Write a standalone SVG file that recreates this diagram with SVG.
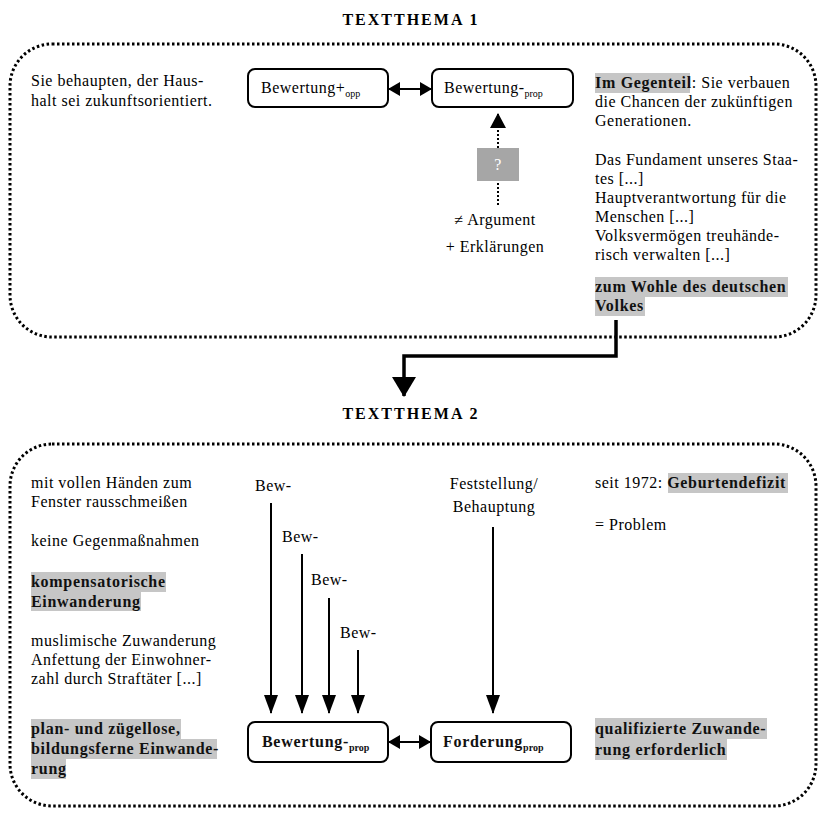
<svg xmlns="http://www.w3.org/2000/svg" width="820" height="817" viewBox="0 0 820 817">
<style>
  .t { font-family: "Liberation Serif", "Times New Roman", serif; font-size: 16px; letter-spacing: 0.5px; fill: #000; }
  .b { font-family: "Liberation Serif", "Times New Roman", serif; font-size: 16px; font-weight: bold; letter-spacing: 0.7px; fill: #111; }
  .title { font-family: "Liberation Serif", "Times New Roman", serif; font-size: 16px; font-weight: bold; letter-spacing: 2px; fill: #000; }
  .sub { font-size: 10px; letter-spacing: 0; }
  .hl { fill: #c6c6c6; }
  .frame { fill: none; stroke: #000; stroke-width: 3; stroke-dasharray: 2.5 2.5; }
  .node { fill: #fff; stroke: #000; stroke-width: 2; }
  .conn { stroke: #000; stroke-width: 2; fill: none; }
</style>
<defs>
  <marker id="ah" markerUnits="userSpaceOnUse" markerWidth="12" markerHeight="14" refX="11" refY="7" orient="auto-start-reverse">
    <path d="M0,0 L12,7 L0,14 z" fill="#000"/>
  </marker>
  <marker id="ahv" markerUnits="userSpaceOnUse" markerWidth="19" markerHeight="14" refX="18" refY="7" orient="auto">
    <path d="M0,0 L19,7 L0,14 z" fill="#000"/>
  </marker>
  <marker id="ahq" markerUnits="userSpaceOnUse" markerWidth="15" markerHeight="16" refX="14" refY="8" orient="auto">
    <path d="M0,0 L15,8 L0,16 z" fill="#000"/>
  </marker>
  <marker id="ahbig" markerUnits="userSpaceOnUse" markerWidth="20" markerHeight="24" refX="19" refY="12" orient="auto">
    <path d="M0,0 L20,12 L0,24 z" fill="#000"/>
  </marker>
</defs>

<rect width="820" height="817" fill="#fff"/>

<!-- ===== TEXTTHEMA 1 ===== -->
<g id="thema1-title"><text class="title" x="411" y="25" text-anchor="middle">TEXTTHEMA 1</text></g>
<g id="frame1"><rect class="frame" x="10" y="44" width="806" height="293" rx="42" ry="42"/></g>

<g id="text-left-1">
  <text class="t" x="31" y="86">Sie behaupten, der Haus-</text>
  <text class="t" x="31" y="106">halt sei zukunftsorientiert.</text>
</g>

<g id="node-bew-opp">
  <rect class="node" x="248" y="69" width="140" height="38" rx="7"/>
  <text class="t" x="261" y="93">Bewertung+<tspan class="sub" dy="4">opp</tspan></text>
</g>
<g id="node-bew-prop-1">
  <rect class="node" x="432" y="69" width="141" height="38" rx="7"/>
  <text class="t" x="444" y="93">Bewertung-<tspan class="sub" dy="4">prop</tspan></text>
</g>

<g id="q-box">
  <rect x="477" y="148" width="42" height="33" fill="#a6a6a6"/>
  <text class="t" x="498" y="170" text-anchor="middle" style="fill:#fff">?</text>
</g>

<g id="text-mid-1">
  <text class="t" x="495" y="225" text-anchor="middle">≠ Argument</text>
  <text class="t" x="495" y="252" text-anchor="middle">+ Erklärungen</text>
</g>

<g id="text-right-1">
  <rect class="hl" x="595" y="73" width="95" height="20"/>
  <text x="595" y="88"><tspan class="b">Im Gegenteil</tspan><tspan class="t">: Sie verbauen</tspan></text>
  <text class="t" x="595" y="107">die Chancen der zukünftigen</text>
  <text class="t" x="595" y="126">Generationen.</text>
  <text class="t" x="595" y="165">Das Fundament unseres Staa-</text>
  <text class="t" x="595" y="184">tes [...]</text>
  <text class="t" x="595" y="203">Hauptverantwortung für die</text>
  <text class="t" x="595" y="222">Menschen [...]</text>
  <text class="t" x="595" y="241">Volksvermögen treuhände-</text>
  <text class="t" x="595" y="260">risch verwalten [...]</text>
  <rect class="hl" x="595" y="277" width="193" height="20"/>
  <rect class="hl" x="595" y="297" width="50" height="19"/>
  <text class="b" x="595" y="292">zum Wohle des deutschen</text>
  <text class="b" x="595" y="311">Volkes</text>
</g>

<!-- ===== TEXTTHEMA 2 ===== -->
<g id="thema2-title"><text class="title" x="411" y="419" text-anchor="middle">TEXTTHEMA 2</text></g>
<g id="frame2"><rect class="frame" x="10" y="444" width="806" height="362" rx="42" ry="42"/></g>

<g id="text-left-2">
  <text class="t" x="31" y="488">mit vollen Händen zum</text>
  <text class="t" x="31" y="507">Fenster rausschmeißen</text>
  <text class="t" x="31" y="546">keine Gegenmaßnahmen</text>
  <rect class="hl" x="31" y="572" width="135" height="20"/>
  <rect class="hl" x="31" y="592" width="110" height="19"/>
  <text class="b" x="31" y="587">kompensatorische</text>
  <text class="b" x="31" y="607">Einwanderung</text>
  <text class="t" x="31" y="646">muslimische Zuwanderung</text>
  <text class="t" x="31" y="665">Anfettung der Einwohner-</text>
  <text class="t" x="31" y="684">zahl durch Straftäter [...]</text>
  <rect class="hl" x="31" y="719" width="150" height="20"/>
  <rect class="hl" x="31" y="739" width="186" height="20"/>
  <rect class="hl" x="31" y="759" width="35" height="20"/>
  <text class="b" x="31" y="734">plan- und zügellose,</text>
  <text class="b" x="31" y="754">bildungsferne Einwande-</text>
  <text class="b" x="31" y="774">rung</text>
</g>

<g id="labels-bew">
  <text class="t" x="255" y="491">Bew-</text>
  <text class="t" x="282" y="542">Bew-</text>
  <text class="t" x="311" y="585">Bew-</text>
  <text class="t" x="340" y="638">Bew-</text>
  <text class="t" x="494" y="489" text-anchor="middle">Feststellung/</text>
  <text class="t" x="494" y="512" text-anchor="middle">Behauptung</text>
</g>

<g id="node-bew-prop-2">
  <rect class="node" x="248" y="722" width="140" height="40" rx="7"/>
  <text class="b" x="262" y="747">Bewertung-<tspan class="sub" dy="4">prop</tspan></text>
</g>
<g id="node-forderung">
  <rect class="node" x="431" y="722" width="140" height="40" rx="7"/>
  <text class="b" x="443" y="747">Forderung<tspan class="sub" dy="4">prop</tspan></text>
</g>

<g id="text-right-2">
  <rect class="hl" x="668" y="473" width="120" height="20"/>
  <text x="595" y="488"><tspan class="t">seit 1972: </tspan><tspan class="b">Geburtendefizit</tspan></text>
  <text class="t" x="595" y="530">= Problem</text>
  <rect class="hl" x="595" y="718" width="172" height="21"/>
  <rect class="hl" x="595" y="739" width="132" height="21"/>
  <text class="b" x="595" y="734">qualifizierte Zuwande-</text>
  <text class="b" x="595" y="755">rung erforderlich</text>
</g>

<!-- ===== connectors ===== -->
<g id="connectors">
  <line class="conn" x1="389" y1="89" x2="431" y2="89" marker-start="url(#ah)" marker-end="url(#ah)"/>
  <line class="conn" x1="498" y1="205" x2="498" y2="181" stroke-dasharray="2 2"/>
  <line class="conn" x1="498" y1="148" x2="498" y2="114" stroke-dasharray="2 2" marker-end="url(#ahq)"/>
  <polyline points="616,320 616,356 404,356 404,396" fill="none" stroke="#000" stroke-width="3.5" marker-end="url(#ahbig)"/>
  <line class="conn" x1="271" y1="503" x2="271" y2="713" marker-end="url(#ahv)"/>
  <line class="conn" x1="302" y1="554" x2="302" y2="713" marker-end="url(#ahv)"/>
  <line class="conn" x1="329" y1="598" x2="329" y2="713" marker-end="url(#ahv)"/>
  <line class="conn" x1="358" y1="650" x2="358" y2="713" marker-end="url(#ahv)"/>
  <line class="conn" x1="493" y1="527" x2="493" y2="713" marker-end="url(#ahv)"/>
  <line class="conn" x1="389" y1="742" x2="430" y2="742" marker-start="url(#ah)" marker-end="url(#ah)"/>
</g>
</svg>
